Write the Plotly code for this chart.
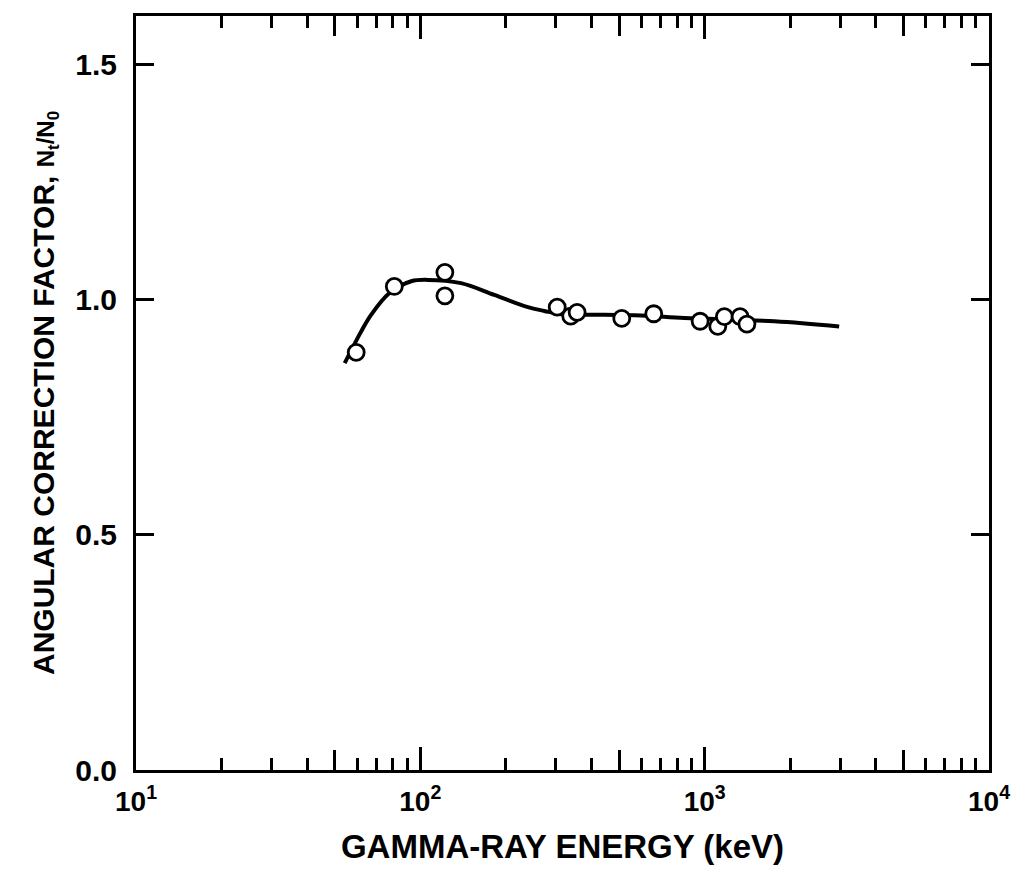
import plotly.graph_objects as go

# Measured points (energy keV, angular correction factor)
energy_pts = [59.5, 81, 122, 122, 303, 338, 356, 511, 662, 964, 1112, 1173, 1332, 1408]
factor_pts = [0.888, 1.028, 1.058, 1.008, 0.984, 0.965, 0.973, 0.960, 0.970, 0.954, 0.943, 0.964, 0.964, 0.948]

# Smooth fitted curve
energy_curve = [54.2, 61.9, 67.2, 77.9, 92.9, 106, 139, 182, 239, 273, 313, 399, 598, 849, 1758, 2972]
factor_curve = [0.865, 0.932, 0.968, 1.014, 1.039, 1.042, 1.035, 1.010, 0.984, 0.976, 0.969, 0.968, 0.966, 0.961, 0.954, 0.943]

# Axis ticks
x_major_vals = [10, 100, 1000, 10000]
x_major_text = ["10<sup>1</sup>", "10<sup>2</sup>", "10<sup>3</sup>", "10<sup>4</sup>"]
x_minor_vals = [m * d for d in (10, 100, 1000) for m in (2, 3, 4, 6, 7, 8, 9)]
x_mid_vals = [50, 500, 5000]
y_tick_vals = [0.0, 0.5, 1.0, 1.5]
y_tick_text = ["0.0", "0.5", "1.0", "1.5"]

FONT = "Liberation Sans, Arial, sans-serif"

fig = go.Figure()
fig.add_trace(go.Scatter(
    x=energy_curve, y=factor_curve, mode="lines",
    line=dict(color="black", width=4, shape="spline", smoothing=1.0),
    showlegend=False, hoverinfo="skip"))
fig.add_trace(go.Scatter(
    x=energy_pts, y=factor_pts, mode="markers",
    marker=dict(symbol="circle", size=16, color="white",
                line=dict(color="black", width=2.8)),
    showlegend=False))
# invisible trace for the mid-decade tick axis
fig.add_trace(go.Scatter(x=[10, 10000], y=[0, 0], xaxis="x2", mode="markers",
                         marker=dict(opacity=0), showlegend=False, hoverinfo="skip"))

fig.update_layout(
    width=1022, height=872,
    margin=dict(l=136, r=30, t=16, b=100),
    paper_bgcolor="white", plot_bgcolor="white",
    font=dict(family=FONT, color="black", size=28, weight="bold"),
    xaxis=dict(
        type="log", range=[1, 4],
        tickmode="array", tickvals=x_major_vals, ticktext=x_major_text,
        ticks="inside", ticklen=23, tickwidth=3, tickcolor="black",
        minor=dict(tickmode="array", tickvals=x_minor_vals, ticks="inside",
                   ticklen=12, tickwidth=3, tickcolor="black", showgrid=False),
        showline=True, linecolor="black", linewidth=3, mirror="ticks",
        showgrid=False, zeroline=False,
        tickfont=dict(size=28, family=FONT, weight="bold"),
        ticklabelstandoff=4,
        title=dict(text="GAMMA-RAY ENERGY (keV)",
                   font=dict(size=33, family=FONT, weight="bold"), standoff=20),
    ),
    xaxis2=dict(
        type="log", range=[1, 4], overlaying="x",
        tickmode="array", tickvals=x_mid_vals, showticklabels=False,
        ticks="inside", ticklen=20, tickwidth=3, tickcolor="black",
        showline=True, linecolor="black", linewidth=3, mirror="ticks",
        showgrid=False, zeroline=False, side="bottom",
    ),
    yaxis=dict(
        range=[0, 1.603],
        tickmode="array", tickvals=y_tick_vals, ticktext=y_tick_text,
        ticks="inside", ticklen=18, tickwidth=3, tickcolor="black",
        showline=True, linecolor="black", linewidth=3, mirror="ticks",
        showgrid=False, zeroline=False,
        tickfont=dict(size=30, family=FONT, weight="bold"),
        ticklabelstandoff=10,
        title=dict(text="ANGULAR CORRECTION FACTOR, "
                        "<span style='font-size:24px'>N<sub>t</sub>/N<sub>0</sub></span>",
                   font=dict(size=30, family=FONT, weight="bold"), standoff=12),
    ),
)

fig.write_html("out.html")
